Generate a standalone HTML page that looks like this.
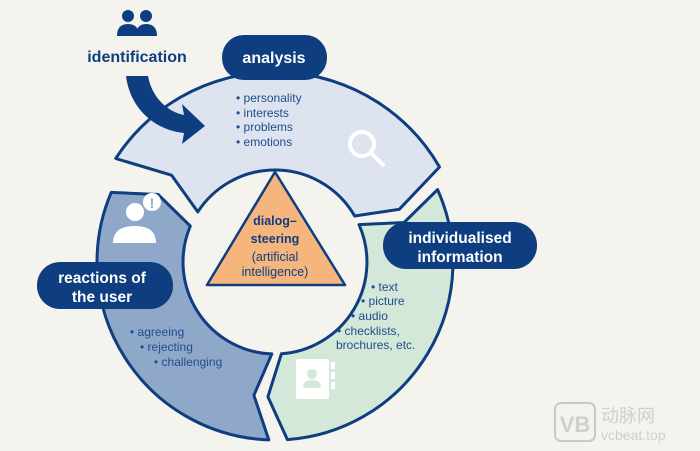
<!DOCTYPE html>
<html><head><meta charset="utf-8"><style>
html,body{margin:0;padding:0;background:#f5f3ee;}
svg{display:block;font-family:"Liberation Sans","DejaVu Sans",sans-serif;}
</style></head><body>
<svg id="s" width="700" height="451" viewBox="0 0 700 451">
<rect width="700" height="451" fill="#f5f3ee"/>
<g id="segs"></g>
<!-- identification arrow -->
<path d="M126,76 L148,76 C152,98 168,112 184,115 L182,104 L205,126 L182,144 L184,133 C154,130 130,108 126,76 Z" fill="#0e3e80"/>
<!-- people icon -->
<g fill="#0e3e80">
<circle cx="128" cy="16" r="6"/><path d="M117,36 Q117,24 128,24 Q139,24 139,36 Z"/>
<circle cx="146" cy="16" r="6"/><path d="M136,36 Q136,24 146,24 Q157,24 157,36 Z"/>
</g>
<text x="137" y="62" text-anchor="middle" font-size="16" font-weight="bold" fill="#0e3e80">identification</text>
<!-- triangle -->
<path d="M275,172 L345,285 L207,285 Z" fill="#f6b57c" stroke="#0e3e80" stroke-width="2.5" stroke-linejoin="round"/>
<g text-anchor="middle" fill="#0e3e80" font-size="12.5">
<text x="275" y="225" font-weight="bold">dialog–</text>
<text x="275" y="243" font-weight="bold">steering</text>
<text x="275" y="261">(artificial</text>
<text x="275" y="276">intelligence)</text>
</g>
<!-- pills -->
<rect x="222" y="35" width="105" height="45" rx="22" fill="#0e3e80"/>
<text x="274" y="63" text-anchor="middle" font-size="16" font-weight="bold" fill="#fff">analysis</text>
<rect x="383" y="222" width="154" height="47" rx="23" fill="#0e3e80"/>
<text x="460" y="243" text-anchor="middle" font-size="15.5" font-weight="bold" fill="#fff">individualised</text>
<text x="460" y="262" text-anchor="middle" font-size="15.5" font-weight="bold" fill="#fff">information</text>
<rect x="37" y="262" width="136" height="47" rx="23" fill="#0e3e80"/>
<text x="102" y="283" text-anchor="middle" font-size="15.5" font-weight="bold" fill="#fff">reactions of</text>
<text x="102" y="302" text-anchor="middle" font-size="15.5" font-weight="bold" fill="#fff">the user</text>
<!-- lists -->
<g font-size="12" fill="#1f4d8c">
<text x="236" y="102">• personality</text>
<text x="236" y="117">• interests</text>
<text x="236" y="131">• problems</text>
<text x="236" y="146">• emotions</text>
<text x="371" y="291">• text</text>
<text x="361" y="305">• picture</text>
<text x="351" y="320">• audio</text>
<text x="337" y="335">• checklists,</text>
<text x="336" y="349">brochures, etc.</text>
<text x="130" y="336">• agreeing</text>
<text x="140" y="351">• rejecting</text>
<text x="154" y="366">• challenging</text>
</g>
<!-- magnifier -->
<g stroke="#fff" stroke-width="4" fill="none"><circle cx="362" cy="144" r="12"/><line x1="371" y1="153" x2="383" y2="165" stroke-linecap="round"/></g>
<!-- user icon -->
<g fill="#fff"><circle cx="135" cy="212" r="9"/><path d="M113,243 Q113,226 135,226 Q156,226 156,243 Z"/><circle cx="152" cy="202" r="9" fill="#fff"/></g>
<text x="152" y="208" text-anchor="middle" font-size="14" font-weight="bold" fill="#8fa8c9">!</text>
<!-- book icon -->
<g fill="#fff"><rect x="296" y="359" width="33" height="40" rx="2"/><rect x="331" y="362" width="4" height="7"/><rect x="331" y="372" width="4" height="7"/><rect x="331" y="382" width="4" height="7"/></g>
<circle cx="312" cy="374" r="5" fill="#d3e8d8"/><path d="M303,388 Q303,380 312,380 Q321,380 321,388 Z" fill="#d3e8d8"/>
<!-- watermark -->
<g fill="none" stroke="#c8c8c8" stroke-width="2"><rect x="555" y="403" width="40" height="38" rx="6"/></g>
<text x="575" y="432" text-anchor="middle" font-size="22" font-weight="bold" fill="#cfcfcf">VB</text>
<text x="601" y="422" font-size="18" fill="#cfcfcf" font-family="Noto Sans CJK SC,sans-serif">动脉网</text>
<text x="601" y="440" font-size="14" fill="#cfcfcf">vcbeat.top</text>
</svg>
<script>
var cx=275,cy=262,ri=92,ro=178,d=7,rm=(ri+ro)/2;
function P(r,a){a=a*Math.PI/180;return (cx+r*Math.cos(a)).toFixed(1)+","+(cy+r*Math.sin(a)).toFixed(1);}
function seg(a0,a1,fill,roOv){var R=roOv||ro;var large=(a1-a0)>180?1:0;
return '<path d="M'+P(R,a0)+' A'+R+','+R+' 0 '+large+' 1 '+P(R,a1)+' L'+P(rm,a1+d)+' L'+P(ri,a1)+' A'+ri+','+ri+' 0 '+large+' 0 '+P(ri,a0)+' L'+P(rm,a0+d)+' Z" fill="'+fill+'" stroke="#0e3e80" stroke-width="3" stroke-linejoin="round"/>';}
document.getElementById('segs').innerHTML=seg(213,330,'#dde4ef',190)+seg(336,446,'#d3e8d8')+seg(452,563,'#8fa8c9');
</script>
</body></html>
